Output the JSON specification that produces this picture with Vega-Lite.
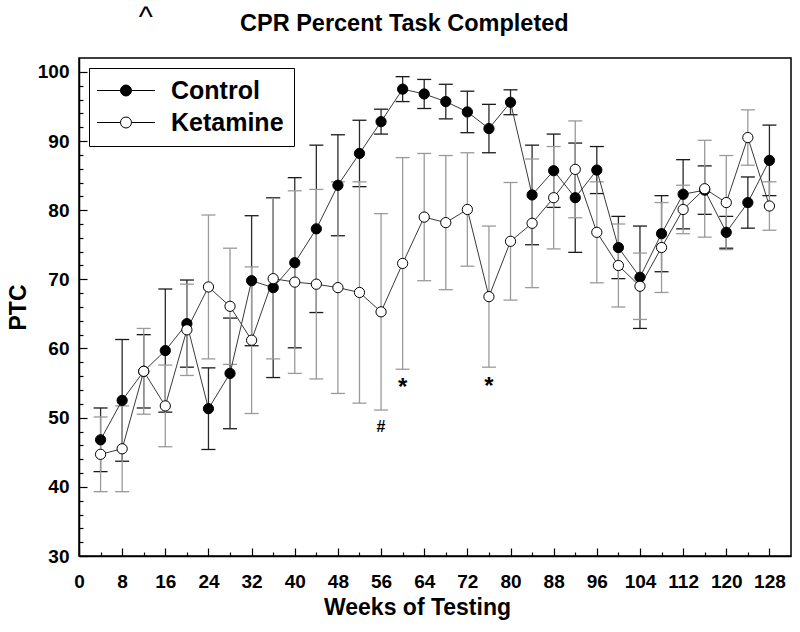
{
  "$schema": "https://vega.github.io/schema/vega-lite/v6.json",
  "autosize": {"type": "none"},
  "width": 712,
  "height": 498,
  "padding": {"left": 79, "top": 58, "right": 9, "bottom": 76},
  "background": "white",
  "title": {
    "text": "CPR Percent Task Completed",
    "anchor": "start",
    "frame": "group",
    "dx": 161,
    "offset": -52,
    "baseline": "alphabetic",
    "font": "Liberation Sans",
    "fontSize": 23.5,
    "fontWeight": "bold",
    "color": "black"
  },
  "config": {
    "view": {"stroke": "black", "strokeWidth": 1.5},
    "axis": {
      "labelFont": "Liberation Sans",
      "labelFontSize": 19,
      "labelFontWeight": "bold",
      "labelColor": "black",
      "labelOverlap": false,
      "labelFlush": false,
      "titleFont": "Liberation Sans",
      "titleFontSize": 23,
      "titleFontWeight": "bold",
      "titleColor": "black",
      "domainColor": "black",
      "domainWidth": 1.5,
      "tickColor": "black",
      "tickWidth": 1.2,
      "grid": false
    }
  },
  "datasets": {
    "ptc": [
      {"week": 4, "group": "Control", "mean": 46.8, "lo": 42.2, "hi": 51.4},
      {"week": 8, "group": "Control", "mean": 52.5, "lo": 43.7, "hi": 61.3},
      {"week": 12, "group": "Control", "mean": 56.7, "lo": 51.4, "hi": 62.0},
      {"week": 16, "group": "Control", "mean": 59.7, "lo": 50.8, "hi": 68.6},
      {"week": 20, "group": "Control", "mean": 63.6, "lo": 57.3, "hi": 69.9},
      {"week": 24, "group": "Control", "mean": 51.3, "lo": 45.4, "hi": 57.2},
      {"week": 28, "group": "Control", "mean": 56.4, "lo": 48.4, "hi": 64.4},
      {"week": 32, "group": "Control", "mean": 69.8, "lo": 60.4, "hi": 79.2},
      {"week": 36, "group": "Control", "mean": 68.8, "lo": 55.8, "hi": 81.8},
      {"week": 40, "group": "Control", "mean": 72.4, "lo": 60.1, "hi": 84.7},
      {"week": 44, "group": "Control", "mean": 77.3, "lo": 65.2, "hi": 89.4},
      {"week": 48, "group": "Control", "mean": 83.6, "lo": 76.3, "hi": 90.9},
      {"week": 52, "group": "Control", "mean": 88.2, "lo": 83.4, "hi": 93.0},
      {"week": 56, "group": "Control", "mean": 92.8, "lo": 91.0, "hi": 94.6},
      {"week": 60, "group": "Control", "mean": 97.5, "lo": 95.7, "hi": 99.3},
      {"week": 64, "group": "Control", "mean": 96.8, "lo": 94.7, "hi": 98.9},
      {"week": 68, "group": "Control", "mean": 95.7, "lo": 93.2, "hi": 98.2},
      {"week": 72, "group": "Control", "mean": 94.2, "lo": 91.2, "hi": 97.2},
      {"week": 76, "group": "Control", "mean": 91.8, "lo": 88.3, "hi": 95.3},
      {"week": 80, "group": "Control", "mean": 95.6, "lo": 93.8, "hi": 97.4},
      {"week": 84, "group": "Control", "mean": 82.2, "lo": 75.0, "hi": 89.4},
      {"week": 88, "group": "Control", "mean": 85.7, "lo": 80.4, "hi": 91.0},
      {"week": 92, "group": "Control", "mean": 81.8, "lo": 73.9, "hi": 89.7},
      {"week": 96, "group": "Control", "mean": 85.8, "lo": 82.4, "hi": 89.2},
      {"week": 100, "group": "Control", "mean": 74.6, "lo": 70.1, "hi": 79.1},
      {"week": 104, "group": "Control", "mean": 70.3, "lo": 62.9, "hi": 77.7},
      {"week": 108, "group": "Control", "mean": 76.6, "lo": 71.1, "hi": 82.1},
      {"week": 112, "group": "Control", "mean": 82.3, "lo": 77.3, "hi": 87.3},
      {"week": 116, "group": "Control", "mean": 82.9, "lo": 79.4, "hi": 86.4},
      {"week": 120, "group": "Control", "mean": 76.8, "lo": 74.5, "hi": 79.1},
      {"week": 124, "group": "Control", "mean": 81.1, "lo": 77.4, "hi": 84.8},
      {"week": 128, "group": "Control", "mean": 87.2, "lo": 82.1, "hi": 92.3},
      {"week": 4, "group": "Ketamine", "mean": 44.7, "lo": 39.3, "hi": 50.1},
      {"week": 8, "group": "Ketamine", "mean": 45.5, "lo": 39.3, "hi": 51.7},
      {"week": 12, "group": "Ketamine", "mean": 56.7, "lo": 50.5, "hi": 62.9},
      {"week": 16, "group": "Ketamine", "mean": 51.7, "lo": 45.8, "hi": 57.6},
      {"week": 20, "group": "Ketamine", "mean": 62.7, "lo": 56.1, "hi": 69.3},
      {"week": 24, "group": "Ketamine", "mean": 68.9, "lo": 58.5, "hi": 79.3},
      {"week": 28, "group": "Ketamine", "mean": 66.1, "lo": 57.7, "hi": 74.5},
      {"week": 32, "group": "Ketamine", "mean": 61.2, "lo": 50.6, "hi": 71.8},
      {"week": 36, "group": "Ketamine", "mean": 70.1, "lo": 58.5, "hi": 81.7},
      {"week": 40, "group": "Ketamine", "mean": 69.6, "lo": 56.4, "hi": 82.8},
      {"week": 44, "group": "Ketamine", "mean": 69.3, "lo": 55.6, "hi": 83.0},
      {"week": 48, "group": "Ketamine", "mean": 68.8, "lo": 53.5, "hi": 84.1},
      {"week": 52, "group": "Ketamine", "mean": 68.1, "lo": 52.1, "hi": 84.1},
      {"week": 56, "group": "Ketamine", "mean": 65.3, "lo": 51.1, "hi": 79.5},
      {"week": 60, "group": "Ketamine", "mean": 72.3, "lo": 57.0, "hi": 87.6},
      {"week": 64, "group": "Ketamine", "mean": 79.0, "lo": 69.8, "hi": 88.2},
      {"week": 68, "group": "Ketamine", "mean": 78.2, "lo": 68.5, "hi": 87.9},
      {"week": 72, "group": "Ketamine", "mean": 80.1, "lo": 71.9, "hi": 88.3},
      {"week": 76, "group": "Ketamine", "mean": 67.5, "lo": 57.3, "hi": 77.7},
      {"week": 80, "group": "Ketamine", "mean": 75.5, "lo": 67.0, "hi": 84.0},
      {"week": 84, "group": "Ketamine", "mean": 78.1, "lo": 68.8, "hi": 87.4},
      {"week": 88, "group": "Ketamine", "mean": 81.8, "lo": 74.4, "hi": 89.2},
      {"week": 92, "group": "Ketamine", "mean": 85.9, "lo": 78.9, "hi": 92.9},
      {"week": 96, "group": "Ketamine", "mean": 76.8, "lo": 69.5, "hi": 84.1},
      {"week": 100, "group": "Ketamine", "mean": 72.0, "lo": 66.0, "hi": 78.0},
      {"week": 104, "group": "Ketamine", "mean": 69.0, "lo": 64.2, "hi": 73.8},
      {"week": 108, "group": "Ketamine", "mean": 74.6, "lo": 68.1, "hi": 81.1},
      {"week": 112, "group": "Ketamine", "mean": 80.1, "lo": 76.6, "hi": 83.6},
      {"week": 116, "group": "Ketamine", "mean": 83.1, "lo": 76.1, "hi": 90.1},
      {"week": 120, "group": "Ketamine", "mean": 81.1, "lo": 74.3, "hi": 87.9},
      {"week": 124, "group": "Ketamine", "mean": 90.5, "lo": 86.5, "hi": 94.5},
      {"week": 128, "group": "Ketamine", "mean": 80.6, "lo": 77.1, "hi": 84.1}
    ],
    "hash": [
      {"week": 56, "y": 48.7, "label": "#"}
    ],
    "stars": [
      {"week": 60, "y": 54.3, "label": "*"},
      {"week": 76, "y": 54.4, "label": "*"}
    ],
    "corner": [
      {"week": 12.4, "y": 107.8, "label": "^"}
    ]
  },
  "data": {"name": "ptc"},
  "encoding": {
    "x": {
      "field": "week",
      "type": "quantitative",
      "scale": {"domain": [0, 132], "nice": false, "zero": false},
      "axis": {
        "title": "Weeks of Testing",
        "titleX": 338,
        "titleY": 58,
        "titleBaseline": "alphabetic",
        "values": [0,4,8,12,16,20,24,28,32,36,40,44,48,52,56,60,64,68,72,76,80,84,88,92,96,100,104,108,112,116,120,124,128],
        "labelExpr": "datum.value % 8 === 0 ? datum.label : ''",
        "tickSize": {"condition": {"test": "datum.value % 8 === 0", "value": -8}, "value": -4},
        "labelPadding": 24
      }
    },
    "y": {
      "field": "mean",
      "type": "quantitative",
      "scale": {"domain": [30, 102], "nice": false, "zero": false},
      "axis": {
        "title": "PTC",
        "titlePadding": 7,
        "values": [30,32,34,36,38,40,42,44,46,48,50,52,54,56,58,60,62,64,66,68,70,72,74,76,78,80,82,84,86,88,90,92,94,96,98,100],
        "labelExpr": "datum.value % 10 === 0 ? datum.label : ''",
        "labelFontSize": {"condition": {"test": "datum.value % 10 === 0", "value": 19}, "value": 1},
        "tickSize": {"condition": {"test": "datum.value % 10 === 0", "value": -8}, "value": -4},
        "labelPadding": 18,
        "labelOverlap": false
      }
    }
  },
  "layer": [
    {
      "transform": [{"filter": "datum.group === 'Control'"}],
      "layer": [
        {
          "mark": {"type": "rule", "strokeWidth": 1.3, "color": "#2a2a2a"},
          "encoding": {"y": {"field": "lo", "type": "quantitative"}, "y2": {"field": "hi"}}
        },
        {
          "mark": {"type": "rule", "strokeWidth": 1.3, "color": "#1a1a1a", "xOffset": -7, "x2Offset": 7},
          "encoding": {"x2": {"field": "week"}, "y": {"field": "hi", "type": "quantitative"}}
        },
        {
          "mark": {"type": "rule", "strokeWidth": 1.3, "color": "#1a1a1a", "xOffset": -7, "x2Offset": 7},
          "encoding": {"x2": {"field": "week"}, "y": {"field": "lo", "type": "quantitative"}}
        }
      ]
    },
    {
      "transform": [{"filter": "datum.group === 'Ketamine'"}],
      "layer": [
        {
          "mark": {"type": "rule", "strokeWidth": 1.3, "color": "#9a9a9a"},
          "encoding": {"y": {"field": "lo", "type": "quantitative"}, "y2": {"field": "hi"}}
        },
        {
          "mark": {"type": "rule", "strokeWidth": 1.3, "color": "#9a9a9a", "xOffset": -7, "x2Offset": 7},
          "encoding": {"x2": {"field": "week"}, "y": {"field": "hi", "type": "quantitative"}}
        },
        {
          "mark": {"type": "rule", "strokeWidth": 1.3, "color": "#9a9a9a", "xOffset": -7, "x2Offset": 7},
          "encoding": {"x2": {"field": "week"}, "y": {"field": "lo", "type": "quantitative"}}
        }
      ]
    },
    {
      "mark": {"type": "line", "color": "#3a3a3a", "strokeWidth": 1},
      "encoding": {
        "detail": {"field": "group", "type": "nominal"}
      }
    },
    {
      "mark": {"type": "circle", "size": 105, "stroke": "black", "strokeWidth": 1, "opacity": 1},
      "encoding": {
        "fill": {
          "field": "group",
          "type": "nominal",
          "scale": {"domain": ["Control", "Ketamine"], "range": ["black", "white"]},
          "legend": {
            "title": null,
            "orient": "none",
            "legendX": 10,
            "legendY": 10,
            "direction": "vertical",
            "padding": 10,
            "strokeColor": "black",
            "fillColor": "white",
            "symbolType": "M-2.63,0L1.63,0M3.63,0L7.91,0M3.63,0A1,1,0,1,1,1.63,0A1,1,0,1,1,3.63,0Z",
            "symbolSize": 121,
            "symbolStrokeColor": "black",
            "symbolStrokeWidth": 1,
            "labelFont": "Liberation Sans",
            "labelFontSize": 25,
            "labelFontWeight": "bold",
            "labelColor": "black",
            "labelOffset": 47,
            "rowPadding": 6,
            "labelLimit": 300
          }
        }
      }
    },
    {
      "data": {"name": "hash"},
      "mark": {"type": "text", "font": "Liberation Sans", "fontSize": 16, "fontWeight": "bold", "color": "black", "baseline": "middle", "align": "center"},
      "encoding": {
        "y": {"field": "y", "type": "quantitative"},
        "text": {"field": "label"}
      }
    },
    {
      "data": {"name": "stars"},
      "mark": {"type": "text", "font": "Liberation Sans", "fontSize": 24, "fontWeight": "bold", "color": "black", "baseline": "middle", "align": "center"},
      "encoding": {
        "y": {"field": "y", "type": "quantitative"},
        "text": {"field": "label"}
      }
    },
    {
      "data": {"name": "corner"},
      "mark": {"type": "text", "font": "Liberation Sans", "fontSize": 30, "fontWeight": "normal", "color": "black", "baseline": "middle", "align": "center"},
      "encoding": {
        "y": {"field": "y", "type": "quantitative"},
        "text": {"field": "label"}
      }
    }
  ]
}
